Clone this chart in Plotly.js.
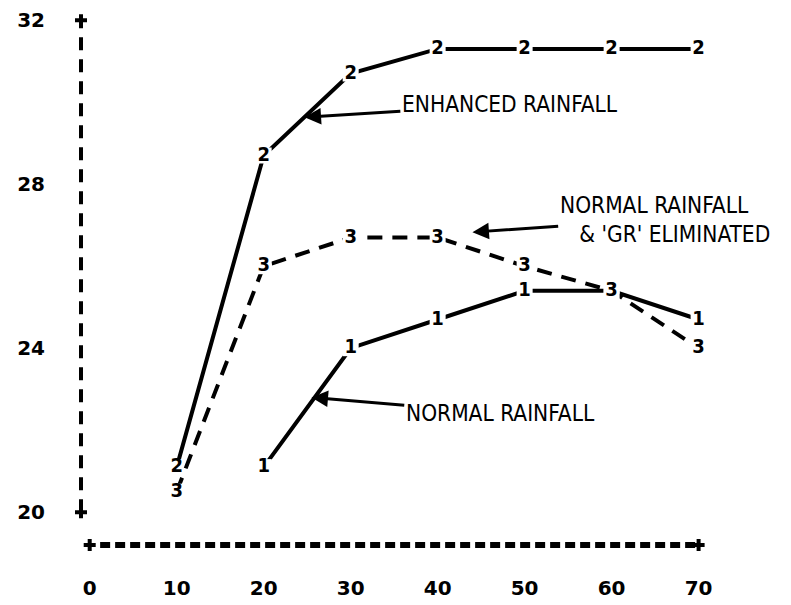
<!DOCTYPE html>
<html>
<head>
<meta charset="utf-8">
<script src="https://cdn.plot.ly/plotly-3.0.1.min.js"></script>
<style>html,body{margin:0;padding:0;background:#fff;}#chart{width:791px;height:605px;}</style>
</head>
<body>
<div id="chart"></div>
<script>
// ---- data ----
const xValues = [10, 20, 30, 40, 50, 60, 70];
const normalRainfall      = [null, 21.1, 24.0, 24.7, 25.4, 25.4, 24.7];   // curve "1"
const enhancedRainfall    = [21.1, 28.7, 30.7, 31.3, 31.3, 31.3, 31.3];   // curve "2"
const normalGrEliminated  = [20.5, 26.0, 26.7, 26.7, 26.0, 25.4, 24.0];   // curve "3"
const seriesSymbols = ['1', '2', '3'];
const xTicks = [0, 10, 20, 30, 40, 50, 60, 70];
const yTicks = [20, 24, 28, 32];
const labelEnhanced = 'ENHANCED RAINFALL';
const labelNormalGr = "NORMAL RAINFALL<br>\u00a0\u00a0\u00a0& 'GR' ELIMINATED";
const labelNormal = 'NORMAL RAINFALL';

const xRange = [-1, 72];
const yRange = [19.2, 32.2];

const narrow = "'Liberation Sans Narrow', 'DejaVu Sans Condensed', 'Arial Narrow', sans-serif";
const digitFont = {family: narrow, size: 20, color: '#000', weight: 'bold'};

function curve(y, sym, dash) {
  return {
    x: xValues, y: y, type: 'scatter', mode: 'lines+markers+text',
    text: y.map(v => v == null ? '' : sym),
    textposition: 'middle center',
    textfont: digitFont,
    line: {color: '#000', width: 4, dash: dash},
    marker: {symbol: 'square', size: 16, color: '#fff', line: {width: 0}},
    cliponaxis: false, hoverinfo: 'skip', showlegend: false
  };
}

const traces = [
  curve(normalRainfall, seriesSymbols[0], 'solid'),
  curve(enhancedRainfall, seriesSymbols[1], 'solid'),
  curve(normalGrEliminated, seriesSymbols[2], '15px,10px'),
  // "+" marks at the ends of the printed axes
  {x: [xRange[0], xRange[0]], y: [yTicks[0], yTicks[yTicks.length - 1]],
   type: 'scatter', mode: 'markers', cliponaxis: false, showlegend: false, hoverinfo: 'skip',
   marker: {symbol: 'cross', size: 10, color: '#000'}},
  {x: [xTicks[0], xTicks[xTicks.length - 1]], y: [yRange[0], yRange[0]],
   type: 'scatter', mode: 'markers', cliponaxis: false, showlegend: false, hoverinfo: 'skip',
   marker: {symbol: 'cross', size: 10, color: '#000'}}
];

const tickFont = {family: "'DejaVu Sans', sans-serif", size: 20, color: '#000', weight: 'bold'};

const layout = {
  width: 791, height: 605,
  margin: {l: 81, r: 75, t: 12, b: 60},
  paper_bgcolor: '#fff', plot_bgcolor: '#fff',
  xaxis: {range: xRange, tickvals: xTicks, ticktext: xTicks.map(String),
          showgrid: false, zeroline: false, showline: false, ticks: '',
          tickfont: tickFont, ticklabelstandoff: 29},
  yaxis: {range: yRange, tickvals: yTicks, ticktext: yTicks.map(String),
          showgrid: false, zeroline: false, showline: false, ticks: '',
          tickfont: tickFont, ticklabelstandoff: 35},
  shapes: [
    {type: 'line', xref: 'paper', yref: 'y', x0: 0, x1: 0,
     y0: yTicks[0], y1: yTicks[yTicks.length - 1],
     line: {color: '#000', width: 4, dash: '13px,9px'}},
    {type: 'line', xref: 'x', yref: 'paper', x0: xTicks[0] + 1.2, x1: xTicks[xTicks.length - 1] - 0.3,
     y0: 0, y1: 0,
     line: {color: '#000', width: 6, dash: '10px,5px'}}
  ],
  annotations: [
    {x: 24.7, y: 29.63, xref: 'x', yref: 'y', ax: 48.3, ay: 29.95, axref: 'x', ayref: 'y',
     text: labelEnhanced, showarrow: true, arrowhead: 2, arrowsize: 1.1, arrowwidth: 3, arrowcolor: '#000',
     font: {family: narrow, size: 22.5, color: '#000'}},
    {x: 44.0, y: 26.83, xref: 'x', yref: 'y', ax: 66.1, ay: 27.15, axref: 'x', ayref: 'y',
     text: labelNormalGr, align: 'left', showarrow: true, arrowhead: 2, arrowsize: 1.1, arrowwidth: 3, arrowcolor: '#000',
     font: {family: narrow, size: 22.5, color: '#000'}},
    {x: 25.5, y: 22.8, xref: 'x', yref: 'y', ax: 47.2, ay: 22.41, axref: 'x', ayref: 'y',
     text: labelNormal, showarrow: true, arrowhead: 2, arrowsize: 1.1, arrowwidth: 3, arrowcolor: '#000',
     font: {family: narrow, size: 22.5, color: '#000'}}
  ]
};

Plotly.newPlot('chart', traces, layout, {staticPlot: true, displayModeBar: false});
</script>
</body>
</html>
